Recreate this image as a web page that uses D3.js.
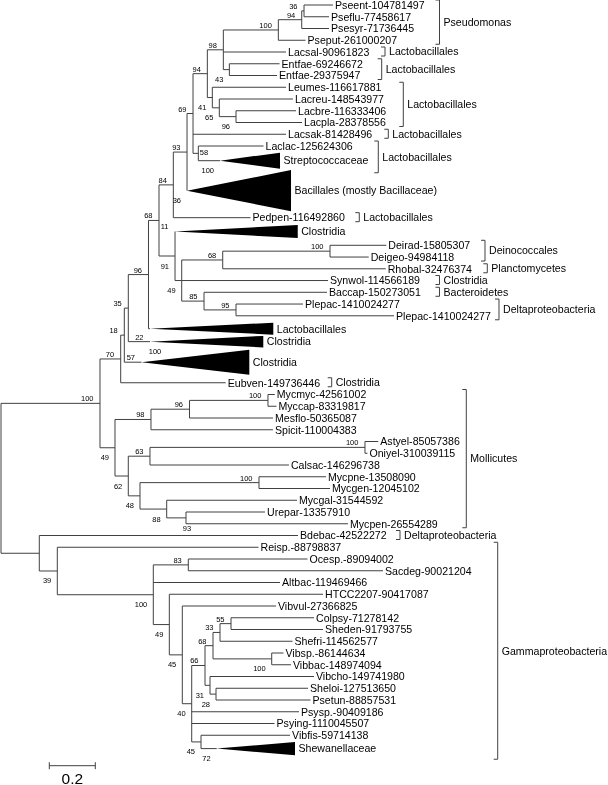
<!DOCTYPE html>
<html><head><meta charset="utf-8">
<script src="https://cdn.jsdelivr.net/npm/d3@7"></script>
<style>
body{margin:0;background:#fff}
svg{will-change:transform}
svg text{font-family:"Liberation Sans",Arial,sans-serif;fill:#000;-webkit-font-smoothing:antialiased}
</style>
</head><body>
<svg id="chart" width="608" height="785"></svg>
<script>
// ---------------- DATA ----------------
// tree edges: [node, parent, branch length (substitutions/site)]
const treeEdges = [
 ["root", null, 0],
 ["N100","root",0.4304],
 ["N70","N100",0.0900],
 ["N18","N70",0.0157],
 ["N35","N18",0.0174],
 ["N96","N35",0.0878],
 ["N84","N96",0.0457],
 ["N93","N84",0.0622],
 ["NX","N93",0.0596],
 ["NY","NX",0.0261],
 ["N94b","NY",0.0622],
 ["N98","N94b",0.0696],
 ["N100p","N98",0.2391],
 ["N94p","N100p",0.1017],
 ["N36p","N94p",0.0100],
 ["Pseent","N36p",0.1261],
 ["Pseflu","N36p",0.1087],
 ["Psesyr","N94p",0.1187],
 ["Pseput","N100p",0.1183],
 ["Lacsal","N98",0.2726],
 ["NEnt","N98",0.0261],
 ["Entfae1","NEnt",0.2183],
 ["Entfae2","NEnt",0.2074],
 ["NLeu","N94b",0.0217],
 ["Leumes","NLeu",0.3204],
 ["NLacreu","NLeu",0.0304],
 ["Lacreu","NLacreu",0.3204],
 ["NLacbre","NLacreu",0.0726],
 ["Lacbre","NLacbre",0.2609],
 ["Lacpla","NLacbre",0.2870],
 ["Lacsak","NY",0.4043],
 ["N58","NY",0.0230],
 ["Laclac","N58",0.2835],
 ["Strep","N58",0.0943],
 ["Bac","NX",0],
 ["Pedpen","N93",0.3357],
 ["N91","N84",0.0696],
 ["Clost11","N91",0],
 ["N49","N91",0.0291],
 ["N68b","N49",0.1783],
 ["N100d","N68b",0.4665],
 ["Deirad","N100d",0.2448],
 ["Deigeo","N100d",0.1683],
 ["Rhobal","N68b",0.7087],
 ["Synwol","N49",0.6361],
 ["N85","N49",0.0970],
 ["Baccap","N85",0.5348],
 ["N95","N85",0.1391],
 ["Plepac1","N95",0.2913],
 ["Plepac2","N95",0.6870],
 ["Lacto","N96",0.0065],
 ["Clost22","N35",0.0943],
 ["CB","N18",0.0748],
 ["Eubven","N70",0.4565],
 ["N49a","N100",0.0652],
 ["N98m","N49a",0.1565],
 ["N96m","N98m",0.1674],
 ["N100m","N96m",0.3413],
 ["Mycmyc","N100m",0.0296],
 ["Myccap","N100m",0.0370],
 ["Mesflo","N96m",0.3630],
 ["Spicit","N98m",0.5304],
 ["N62","N49a",0.0578],
 ["N63","N62",0.0943],
 ["N100a","N63",0.9348],
 ["Astyel","N100a",0.0578],
 ["Oniyel","N100a",0.0109],
 ["Calsac","N63",0.6043],
 ["N48","N62",0.0509],
 ["N100b","N48",0.5174],
 ["Mycpne","N100b",0.2913],
 ["Mycgen","N100b",0.3087],
 ["N88","N48",0.1161],
 ["Mycgal","N88",0.5665],
 ["N93m","N88",0.0839],
 ["Urepar","N93m",0.3435],
 ["Mycpen","N93m",0.7043],
 ["N39","root",0.1665],
 ["Bdebac","N39",1.1248],
 ["N57g","N39",0.0783],
 ["Reisp","N57g",0.8748],
 ["N100g","N57g",0.4174],
 ["N83","N100g",0.1522],
 ["Ocesp","N83",0.5183],
 ["Sacdeg","N83",0.8465],
 ["Altbac","N100g",0.5509],
 ["N49g","N100g",0.0696],
 ["HTCC","N49g",0.6683],
 ["N45a","N49g",0.0565],
 ["Vibvul","N45a",0.4074],
 ["N40","N45a",0.0409],
 ["N66","N40",0.0578],
 ["N68g","N66",0.0348],
 ["N33","N68g",0.0304],
 ["N55","N33",0.0478],
 ["Colpsy","N55",0.3609],
 ["Sheden","N55",0.4000],
 ["Shefri","N33",0.3152],
 ["N100v","N68g",0.2552],
 ["Vibsp","N100v",0.0513],
 ["Vibbac","N100v",0.0839],
 ["N31","N66",0.0217],
 ["Vibcho","N31",0.4522],
 ["N28","N31",0.0261],
 ["Sheloi","N28",0.4000],
 ["Psetun","N28",0.4109],
 ["Psysp","N40",0.4665],
 ["Psying","N40",0.3600],
 ["NVS","N40",0.0404],
 ["Vibfis","NVS",0.3870],
 ["Shew","NVS",0.0683]
];

// leaf display names
const leafNames = [
 ["Pseent","Pseent-104781497"],["Pseflu","Pseflu-77458617"],["Psesyr","Psesyr-71736445"],
 ["Pseput","Pseput-261000207"],["Lacsal","Lacsal-90961823"],["Entfae1","Entfae-69246672"],
 ["Entfae2","Entfae-29375947"],["Leumes","Leumes-116617881"],["Lacreu","Lacreu-148543977"],
 ["Lacbre","Lacbre-116333406"],["Lacpla","Lacpla-28378556"],["Lacsak","Lacsak-81428496"],
 ["Laclac","Laclac-125624306"],["Strep","Streptococcaceae"],["Bac","Bacillales (mostly Bacillaceae)"],
 ["Pedpen","Pedpen-116492860"],["Clost11","Clostridia"],["Deirad","Deirad-15805307"],
 ["Deigeo","Deigeo-94984118"],["Rhobal","Rhobal-32476374"],["Synwol","Synwol-114566189"],
 ["Baccap","Baccap-150273051"],["Plepac1","Plepac-1410024277"],["Plepac2","Plepac-1410024277"],
 ["Lacto","Lactobacillales"],["Clost22","Clostridia"],["CB","Clostridia"],
 ["Eubven","Eubven-149736446"],["Mycmyc","Mycmyc-42561002"],["Myccap","Myccap-83319817"],
 ["Mesflo","Mesflo-50365087"],["Spicit","Spicit-110004383"],["Astyel","Astyel-85057386"],
 ["Oniyel","Oniyel-310039115"],["Calsac","Calsac-146296738"],["Mycpne","Mycpne-13508090"],
 ["Mycgen","Mycgen-12045102"],["Mycgal","Mycgal-31544592"],["Urepar","Urepar-13357910"],
 ["Mycpen","Mycpen-26554289"],["Bdebac","Bdebac-42522272"],["Reisp","Reisp.-88798837"],
 ["Ocesp","Ocesp.-89094002"],["Sacdeg","Sacdeg-90021204"],["Altbac","Altbac-119469466"],
 ["HTCC","HTCC2207-90417087"],["Vibvul","Vibvul-27366825"],["Colpsy","Colpsy-71278142"],
 ["Sheden","Sheden-91793755"],["Shefri","Shefri-114562577"],["Vibsp","Vibsp.-86144634"],
 ["Vibbac","Vibbac-148974094"],["Vibcho","Vibcho-149741980"],["Sheloi","Sheloi-127513650"],
 ["Psetun","Psetun-88857531"],["Psysp","Psysp.-90409186"],["Psying","Psying-1110045507"],
 ["Vibfis","Vibfis-59714138"],["Shew","Shewanellaceae"]
];

// collapsed clades: [node, rows occupied, triangle height (rows), triangle depth (subst/site)]
const collapsedClades = [
 ["Strep",1.5,1.37,0.2609],
 ["Bac",3.6,3.5,0.4522],
 ["Clost11",1.35,1.1,0.5335],
 ["Lacto",1.2,1.02,0.5361],
 ["Clost22",1.0,0.98,0.4926],
 ["CB",2.5,2.13,0.4687],
 ["Shew",1.27,1.13,0.3404]
];

// bootstrap support: [node, value, placement a=above b=below r=right c=centre-below t=over triangle]
const bootstrapValues = [
 ["N100","100","a"],["N70","70","a"],["N18","18","a"],["N35","35","a"],["N96","96","a"],
 ["N84","68","a"],["N93","84","a"],["NX","93","a"],["NY","69","a"],["N94b","94","a"],
 ["N98","98","a"],["N100p","100","a"],["N94p","94","a"],["N36p","36","a"],["NEnt","43","b"],
 ["NLeu","41","b"],["NLacreu","65","b"],["NLacbre","96","b"],["N58","58","r"],["Strep","100","b"],
 ["Bac","36","b"],["N91","91","b"],["Clost11","11","a"],["N49","49","b"],["N68b","68","a"],
 ["N100d","100","a"],["N85","85","a"],["N95","95","a"],["Clost22","22","a"],["CB","57","a"],
 ["CB","100","t"],["N49a","49","b"],["N98m","98","a"],["N96m","96","a"],["N100m","100","a"],
 ["N62","62","b"],["N63","63","a"],["N100a","100","a"],["N48","48","b"],["N100b","100","a"],
 ["N88","88","b"],["N93m","93","c"],["N57g","39","b"],["N100g","100","b"],["N83","83","a"],
 ["N49g","49","b"],["N45a","45","b"],["N40","40","b"],["N66","66","a"],["N68g","68","a"],
 ["N33","33","a"],["N55","55","a"],["N100v","100","b"],["N31","31","b"],["N28","28","b"],
 ["NVS","45","b"],["Shew","72","b"]
];

// taxonomic brackets: [label, first member, last member, bracket position (subst/site from root)]
const cladeGroups = [
 ["Pseudomonas","Pseent","Pseput",1.9065],
 ["Lactobacillales","Lacsal","Lacsal",1.6696],
 ["Lactobacillales","Entfae1","Entfae2",1.6552],
 ["Lactobacillales","Leumes","Lacpla",1.7491],
 ["Lactobacillales","Lacsak","Lacsak",1.6839],
 ["Lactobacillales","Laclac","Strep",1.6404],
 ["Lactobacillales","Pedpen","Pedpen",1.5578],
 ["Deinococcales","Deirad","Deigeo",2.1043],
 ["Planctomycetes","Rhobal","Rhobal",2.1143],
 ["Clostridia","Synwol","Synwol",1.9065],
 ["Bacteroidetes","Baccap","Baccap",1.9065],
 ["Deltaproteobacteria","Plepac1","Plepac2",2.1652],
 ["Clostridia","Eubven","Eubven",1.4378],
 ["Mollicutes","Mycmyc","Mycpen",2.0230],
 ["Deltaproteobacteria","Bdebac","Bdebac",1.7348],
 ["Gammaproteobacteria","Reisp","Shew",2.1596]
];

const scaleBarValue = 0.2;
const scaleBarLabel = "0.2";

// ---------------- LAYOUT ----------------
const svg = d3.select("#chart");
const x = d3.scaleLinear().domain([0, 1]).range([1, 231]);
const y = d3.scaleLinear().domain([0, 1]).range([5, 16.75]);
const rowPx = y(1) - y(0);
const lineColor = "#404040";

const root = d3.stratify().id(d => d[0]).parentId(d => d[1])(treeEdges);
const collapsed = new Map(collapsedClades.map(c => [c[0], c]));
const names = new Map(leafNames);

root.eachBefore(n => { n.dist = n.parent ? n.parent.dist + n.data[2] : 0; n.px = x(n.dist); });

let prev = null;
root.leaves().forEach(l => {
  const c = collapsed.get(l.id);
  l.rows = c ? c[1] : 1;
  l.row = prev ? prev.row + (prev.rows + l.rows) / 2 : 0;
  l.py = y(l.row);
  prev = l;
});
root.eachAfter(n => {
  if (n.children) n.py = (n.children[0].py + n.children[n.children.length - 1].py) / 2;
});
const byId = new Map(root.descendants().map(n => [n.id, n]));

// horizontal branches
const g = svg.append("g").attr("fill", "none").attr("stroke", lineColor).attr("stroke-width", 1);
g.selectAll("line.h").data(root.descendants().filter(n => n.parent)).join("line")
  .attr("x1", n => n.parent.px).attr("x2", n => n.px)
  .attr("y1", n => n.py).attr("y2", n => n.py);
// vertical connectors
g.selectAll("line.v").data(root.descendants().filter(n => n.children)).join("line")
  .attr("x1", n => n.px).attr("x2", n => n.px)
  .attr("y1", n => n.children[0].py).attr("y2", n => n.children[n.children.length - 1].py);

// collapsed triangles
const tri = root.leaves().filter(l => collapsed.has(l.id));
svg.append("g").selectAll("path").data(tri).join("path")
  .attr("fill", "#000")
  .attr("d", l => {
    const c = collapsed.get(l.id);
    const x2 = x(l.dist + c[3]);
    const hh = c[2] * rowPx / 2;
    return `M${l.px},${l.py}L${x2},${l.py - hh}L${x2},${l.py + hh}Z`;
  });

// leaf labels
svg.append("g").attr("font-size", "10.6px").selectAll("text").data(root.leaves()).join("text")
  .attr("x", l => collapsed.has(l.id) ? x(l.dist + collapsed.get(l.id)[3]) + 3.5 : l.px + 2)
  .attr("y", l => l.py + 3.8)
  .text(l => names.get(l.id));

// bootstrap values
const bs = svg.append("g").attr("font-size", "7.5px");
bootstrapValues.forEach(([id, v, pos]) => {
  const n = byId.get(id);
  let tx = n.px - 6.5, ty = n.py - 2, anchor = "end";
  if (pos === "b") { tx = n.px - 6; ty = n.py + 12.5; }
  if (pos === "r") { tx = n.px + 1.5; ty = n.py + 1.5; anchor = "start"; }
  if (pos === "c") { tx = n.px + 1; ty = n.py + 13; anchor = "middle"; }
  if (pos === "t") { tx = n.px + 13.5; ty = n.py - 8; anchor = "middle"; }
  bs.append("text").attr("x", tx).attr("y", ty).attr("text-anchor", anchor).text(v);
});

// clade brackets
const br = svg.append("g");
cladeGroups.forEach(([label, a, b, pos]) => {
  const na = byId.get(a), nb = byId.get(b);
  const ha = collapsed.has(a) ? collapsed.get(a)[2] * rowPx / 2 : 0;
  const hb = collapsed.has(b) ? collapsed.get(b)[2] * rowPx / 2 : 0;
  const top = na.py - ha - 5, bot = nb.py + hb + 4;
  const bx = x(pos);
  br.append("path").attr("fill", "none").attr("stroke", lineColor).attr("stroke-width", 1)
    .attr("d", `M${bx - 4},${top}H${bx}V${bot}H${bx - 4}`);
  br.append("text").attr("font-size", "10.6px").attr("x", bx + 4).attr("y", (top + bot) / 2 + 3.8).text(label);
});

// scale bar
const sbX = 49.3, sbY = 765.7;
const sbW = x(scaleBarValue) - x(0);
const sb = svg.append("g").attr("stroke", lineColor).attr("stroke-width", 1);
sb.append("line").attr("x1", sbX).attr("x2", sbX + sbW).attr("y1", sbY).attr("y2", sbY);
sb.append("line").attr("x1", sbX).attr("x2", sbX).attr("y1", sbY - 3.5).attr("y2", sbY + 3.5);
sb.append("line").attr("x1", sbX + sbW).attr("x2", sbX + sbW).attr("y1", sbY - 3.5).attr("y2", sbY + 3.5);
svg.append("text").attr("font-size", "15.5px").attr("x", sbX + sbW / 2).attr("y", 783.5)
  .attr("text-anchor", "middle").text(scaleBarLabel);
</script>
</body></html>
